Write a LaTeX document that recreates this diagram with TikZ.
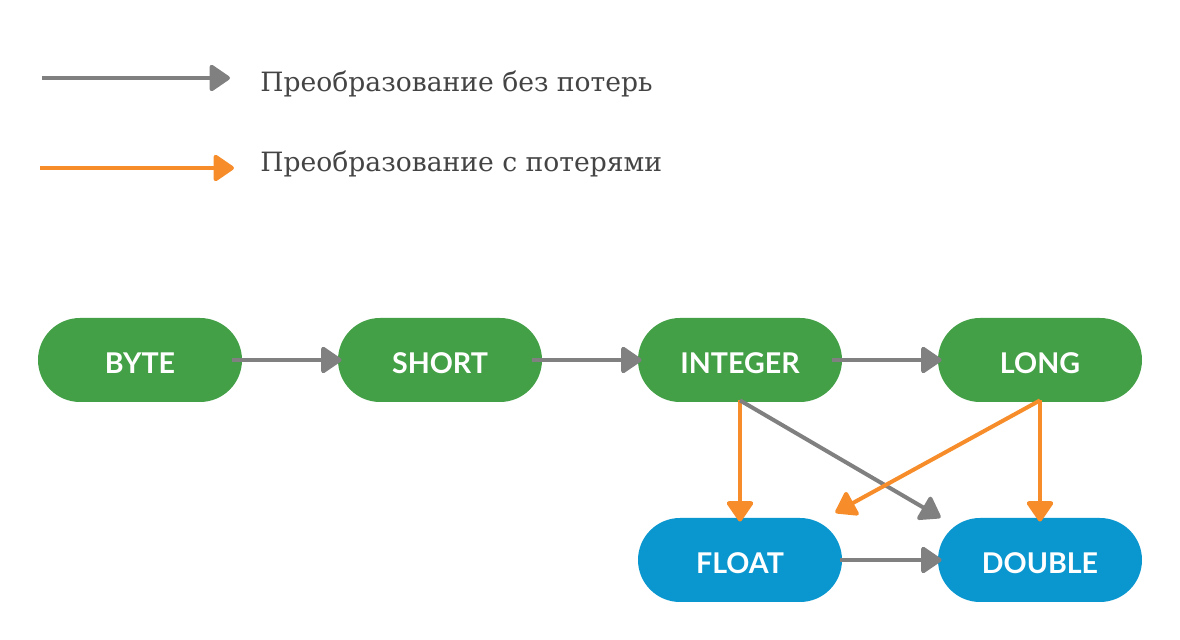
\documentclass[tikz,border=0pt]{standalone}
\usepackage{fontspec}
\setmainfont{DejaVu Serif}
\newfontfamily\nodefont{Lato}
\usetikzlibrary{arrows.meta}
\definecolor{boxgreen}{HTML}{43A047}
\definecolor{boxblue}{HTML}{0A97CF}
\definecolor{arrgray}{HTML}{808080}
\definecolor{arrorange}{HTML}{F68D2A}
\definecolor{legtext}{HTML}{444444}
\tikzset{
  typebox/.style={rectangle, rounded corners=21pt, minimum width=102pt, minimum height=42pt,
    inner sep=0pt, text height=13.3pt, text depth=0pt, text=white,
    font=\nodefont\bfseries\fontsize{14.3}{16}\selectfont},
  greenbox/.style={typebox, fill=boxgreen},
  bluebox/.style={typebox, fill=boxblue},
  conv/.style={line width=2pt, -{Triangle[length=11pt,width=14.5pt,round]}},
  lossless/.style={conv, draw=arrgray},
  lossy/.style={conv, draw=arrorange},
  legendtext/.style={anchor=west, text=legtext, font=\fontsize{13.3}{15}\selectfont, inner sep=0pt}
}
\begin{document}
\begin{tikzpicture}[x=0.5pt,y=-0.5pt]
\useasboundingbox (0,0) rectangle (1180,640);
% legend
\coordinate (l1s) at (42,78);
\coordinate (l1e) at (230,78);
\coordinate (l2s) at (40,168);
\coordinate (l2e) at (234,168);
\draw[lossless] (l1s) -- (l1e);
\draw[lossy] (l2s) -- (l2e);
\node[legendtext] (t1) at (260,84) {Преобразование без потерь};
\node[legendtext] (t2) at (260,164) {Преобразование с потерями};
% nodes
\node[greenbox] (byte) at (140,360) {BYTE};
\node[greenbox] (short) at (440,360) {SHORT};
\node[greenbox] (int) at (740,360) {INTEGER};
\node[greenbox] (long) at (1040,360) {LONG};
\node[bluebox] (float) at (740,560) {FLOAT};
\node[bluebox] (double) at (1040,560) {DOUBLE};
% connectors
\draw[lossless] ([xshift=-5pt]byte.east) -- ([xshift=2pt]short.west);
\draw[lossless] ([xshift=-5pt]short.east) -- ([xshift=2pt]int.west);
\draw[lossless] ([xshift=-5pt]int.east) -- ([xshift=2pt]long.west);
\draw[lossless] ([xshift=-1pt]float.east) -- ([xshift=2pt]double.west);
\draw[lossy] ([yshift=1pt]int.south) -- ([yshift=-2pt]float.north);
\draw[lossless] ([yshift=1pt]int.south) -- ([xshift=1.5pt]double.north west);
\draw[lossy] ([yshift=1pt]long.south) -- ([xshift=-3.5pt,yshift=2.5pt]float.north east);
\draw[lossy] ([yshift=1pt]long.south) -- ([yshift=-2pt]double.north);
\end{tikzpicture}
\end{document}
